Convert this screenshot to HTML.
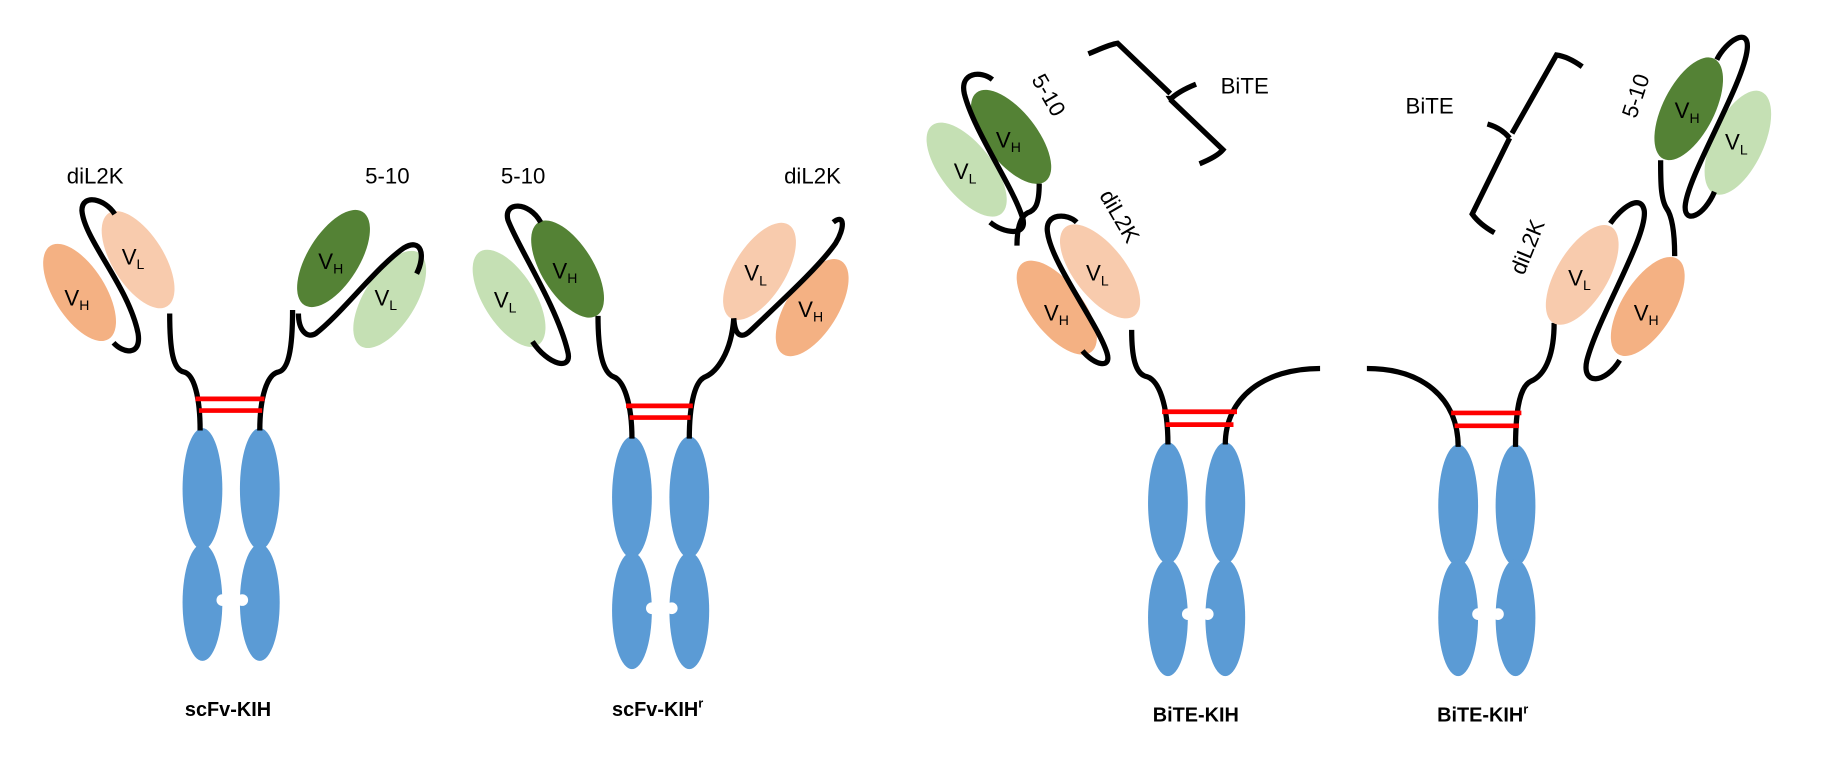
<!DOCTYPE html>
<html><head><style>
html,body{margin:0;padding:0;background:#fff;}
svg{display:block;}
text{font-family:"Liberation Sans","DejaVu Sans",sans-serif;fill:#000;}
.t{font-size:19px;}
.s{font-size:12px;}
.b{font-size:17px;font-weight:bold;}
.k{fill:none;stroke:#000;stroke-width:4.5;stroke-linecap:butt;}
.r{stroke:#f00;stroke-width:4;}
.bl{fill:#5B9BD5;}
</style></head><body>
<svg width="1835" height="765" viewBox="0 0 1568 654" preserveAspectRatio="none" xmlns="http://www.w3.org/2000/svg">
<rect width="1568" height="654" fill="#fff"/>

<!-- ===== Panel 1: scFv-KIH ===== -->
<g>
<ellipse class="bl" cx="173" cy="418" rx="17" ry="52"/>
<ellipse class="bl" cx="222" cy="418" rx="17" ry="52"/>
<ellipse class="bl" cx="173" cy="515" rx="17" ry="50"/>
<ellipse class="bl" cx="222" cy="515" rx="17" ry="50"/>
<circle cx="190" cy="513" r="5" fill="#fff"/><circle cx="207" cy="513" r="5" fill="#fff"/>
<path class="k" d="M171,368 C171,340 166,320 157,318 C148,316 145,300 145,268"/>
<path class="k" d="M222,368 C222,340 228,320 238,318 C246,316 250,300 250,265"/>
<line class="r" x1="167" y1="341" x2="226" y2="341"/><line class="r" x1="170" y1="351" x2="224" y2="351"/>
<ellipse cx="68" cy="250" rx="22" ry="47" fill="#F4B183" transform="rotate(-32 68 250)"/>
<ellipse cx="118" cy="222" rx="22" ry="47" fill="#F8CBAD" transform="rotate(-32 118 222)"/>
<path class="k" d="M98,183 C90,170 70,165 70,180 C72,205 110,245 118,285 C121,305 105,302 97,293"/>
<text class="t" x="57" y="157">diL2K</text>
<text class="t" x="55" y="261">V<tspan class="s" dy="4">H</tspan></text>
<text class="t" x="104" y="226">V<tspan class="s" dy="4">L</tspan></text>
<ellipse cx="285" cy="221" rx="22" ry="47" fill="#548235" transform="rotate(32 285 221)"/>
<ellipse cx="333" cy="256" rx="22" ry="47" fill="#C5E0B4" transform="rotate(32 333 256)"/>
<path class="k" d="M356,234 C364,218 360,203 345,212 C322,228 292,268 270,285 C262,290 255,282 255,268"/>
<text class="t" x="312" y="157">5-10</text>
<text class="t" x="272" y="230">V<tspan class="s" dy="4">H</tspan></text>
<text class="t" x="320" y="261">V<tspan class="s" dy="4">L</tspan></text>
<text class="b" x="158" y="612">scFv-KIH</text>
</g>

<!-- ===== Panel 2: scFv-KIHr ===== -->
<g>
<ellipse class="bl" cx="540" cy="425" rx="17" ry="52"/>
<ellipse class="bl" cx="589" cy="425" rx="17" ry="52"/>
<ellipse class="bl" cx="540" cy="522" rx="17" ry="50"/>
<ellipse class="bl" cx="589" cy="522" rx="17" ry="50"/>
<circle cx="557" cy="520" r="5" fill="#fff"/><circle cx="574" cy="520" r="5" fill="#fff"/>
<path class="k" d="M540,375 C540,345 533,325 524,322 C515,318 511,300 511,270"/>
<path class="k" d="M589,375 C589,345 594,325 603,322 C612,318 625,302 627,272"/>
<line class="r" x1="535" y1="347" x2="592" y2="347"/><line class="r" x1="538" y1="357" x2="590" y2="357"/>
<ellipse cx="435" cy="255" rx="22" ry="47" fill="#C5E0B4" transform="rotate(-32 435 255)"/>
<ellipse cx="485" cy="230" rx="22" ry="47" fill="#548235" transform="rotate(-32 485 230)"/>
<path class="k" d="M455,292 C468,312 490,318 485,300 C476,262 442,210 434,188 C430,172 452,172 462,190"/>
<text class="t" x="428" y="157">5-10</text>
<text class="t" x="422" y="263">V<tspan class="s" dy="4">L</tspan></text>
<text class="t" x="472" y="238">V<tspan class="s" dy="4">H</tspan></text>
<ellipse cx="649" cy="232" rx="22" ry="47" fill="#F8CBAD" transform="rotate(32 649 232)"/>
<ellipse cx="694" cy="263" rx="22" ry="47" fill="#F4B183" transform="rotate(32 694 263)"/>
<path class="k" d="M627,272 C628,288 634,290 642,282 C667,258 700,228 714,208 C722,195 722,182 712,190"/>
<text class="t" x="670" y="157">diL2K</text>
<text class="t" x="636" y="240">V<tspan class="s" dy="4">L</tspan></text>
<text class="t" x="682" y="271">V<tspan class="s" dy="4">H</tspan></text>
<text class="b" x="523" y="612">scFv-KIH<tspan font-size="11" dy="-7">r</tspan></text>
</g>

<!-- ===== Panel 3: BiTE-KIH ===== -->
<g>
<ellipse class="bl" cx="998" cy="430" rx="17" ry="52"/>
<ellipse class="bl" cx="1047" cy="430" rx="17" ry="52"/>
<ellipse class="bl" cx="998" cy="528" rx="17" ry="50"/>
<ellipse class="bl" cx="1047" cy="528" rx="17" ry="50"/>
<circle cx="1015" cy="525" r="5" fill="#fff"/><circle cx="1032" cy="525" r="5" fill="#fff"/>
<path class="k" d="M998,380 C998,345 990,325 980,322 C970,320 967,305 967,282"/>
<path class="k" d="M1047,380 C1047,340 1080,315 1128,315"/>
<line class="r" x1="993" y1="352" x2="1057" y2="352"/><line class="r" x1="996" y1="363" x2="1054" y2="363"/>
<ellipse cx="826" cy="145" rx="22" ry="48" fill="#C5E0B4" transform="rotate(-38 826 145)"/>
<ellipse cx="864" cy="117" rx="22" ry="48" fill="#548235" transform="rotate(-38 864 117)"/>
<path class="k" d="M846,190 C858,200 878,202 874,187 C866,160 832,112 824,80 C820,62 838,60 848,68"/>
<path class="k" d="M888,157 C888,176 884,180 878,182 C871,186 869,198 869,210"/>
<ellipse cx="903" cy="263" rx="22" ry="48" fill="#F4B183" transform="rotate(-38 903 263)"/>
<ellipse cx="940" cy="232" rx="22" ry="48" fill="#F8CBAD" transform="rotate(-38 940 232)"/>
<path class="k" d="M925,300 C935,312 950,316 946,302 C938,276 898,225 895,198 C893,182 912,182 920,190"/>
<text class="t" x="815" y="153">V<tspan class="s" dy="4">L</tspan></text>
<text class="t" x="851" y="126">V<tspan class="s" dy="4">H</tspan></text>
<text class="t" x="892" y="274">V<tspan class="s" dy="4">H</tspan></text>
<text class="t" x="928" y="240">V<tspan class="s" dy="4">L</tspan></text>
<text class="t" transform="translate(881,68) rotate(60)">5-10</text>
<text class="t" transform="translate(939,167) rotate(60)">diL2K</text>
<path class="k" d="M930,46 C940,42 948,38 955,37 L1000,80 M1000,85 C1005,80 1012,76 1022,72 M1000,85 L1045,128 C1040,134 1030,138 1025,140"/>
<path d="M996,82 L1004,82 L1000,88 Z" fill="#000"/>
<text class="t" x="1043" y="80">BiTE</text>
<text class="b" x="985" y="617">BiTE-KIH</text>
</g>

<!-- ===== Panel 4: BiTE-KIHr ===== -->
<g>
<ellipse class="bl" cx="1246" cy="432" rx="17" ry="52"/>
<ellipse class="bl" cx="1295" cy="432" rx="17" ry="52"/>
<ellipse class="bl" cx="1246" cy="528" rx="17" ry="50"/>
<ellipse class="bl" cx="1295" cy="528" rx="17" ry="50"/>
<circle cx="1263" cy="525" r="5" fill="#fff"/><circle cx="1280" cy="525" r="5" fill="#fff"/>
<path class="k" d="M1246,382 C1246,340 1215,315 1168,315"/>
<path class="k" d="M1295,382 C1295,345 1300,330 1308,326 C1322,320 1328,300 1328,276"/>
<line class="r" x1="1240" y1="353" x2="1300" y2="353"/><line class="r" x1="1243" y1="364" x2="1298" y2="364"/>
<ellipse cx="1352" cy="235" rx="22" ry="48" fill="#F8CBAD" transform="rotate(31 1352 235)"/>
<ellipse cx="1408" cy="262" rx="22" ry="48" fill="#F4B183" transform="rotate(32 1408 262)"/>
<path class="k" d="M1376,191 C1385,178 1402,165 1405,180 C1408,202 1366,270 1356,308 C1351,330 1372,328 1384,308"/>
<path class="k" d="M1431,219 C1431,200 1429,185 1424,178 C1419,170 1419,155 1419,137"/>
<ellipse cx="1443" cy="93" rx="22" ry="48" fill="#548235" transform="rotate(27 1443 93)"/>
<ellipse cx="1485" cy="122" rx="22" ry="48" fill="#C5E0B4" transform="rotate(25 1485 122)"/>
<path class="k" d="M1467,51 C1475,35 1495,22 1493,42 C1490,72 1442,150 1440,176 C1439,192 1456,185 1465,164"/>
<text class="t" x="1340" y="244">V<tspan class="s" dy="4">L</tspan></text>
<text class="t" x="1396" y="274">V<tspan class="s" dy="4">H</tspan></text>
<text class="t" x="1431" y="101">V<tspan class="s" dy="4">H</tspan></text>
<text class="t" x="1474" y="128">V<tspan class="s" dy="4">L</tspan></text>
<text class="t" transform="translate(1398,102) rotate(-72)">5-10</text>
<text class="t" transform="translate(1302,236) rotate(-68)">diL2K</text>
<path class="k" d="M1352,57 C1345,52 1338,48 1330,47 L1292,114 M1290,118 C1285,112 1278,108 1271,106 M1290,118 L1258,183 C1263,190 1270,195 1277,199"/>
<text class="t" x="1201" y="97">BiTE</text>
<text class="b" x="1228" y="617">BiTE-KIH<tspan font-size="11" dy="-7">r</tspan></text>
</g>
</svg>
</body></html>
